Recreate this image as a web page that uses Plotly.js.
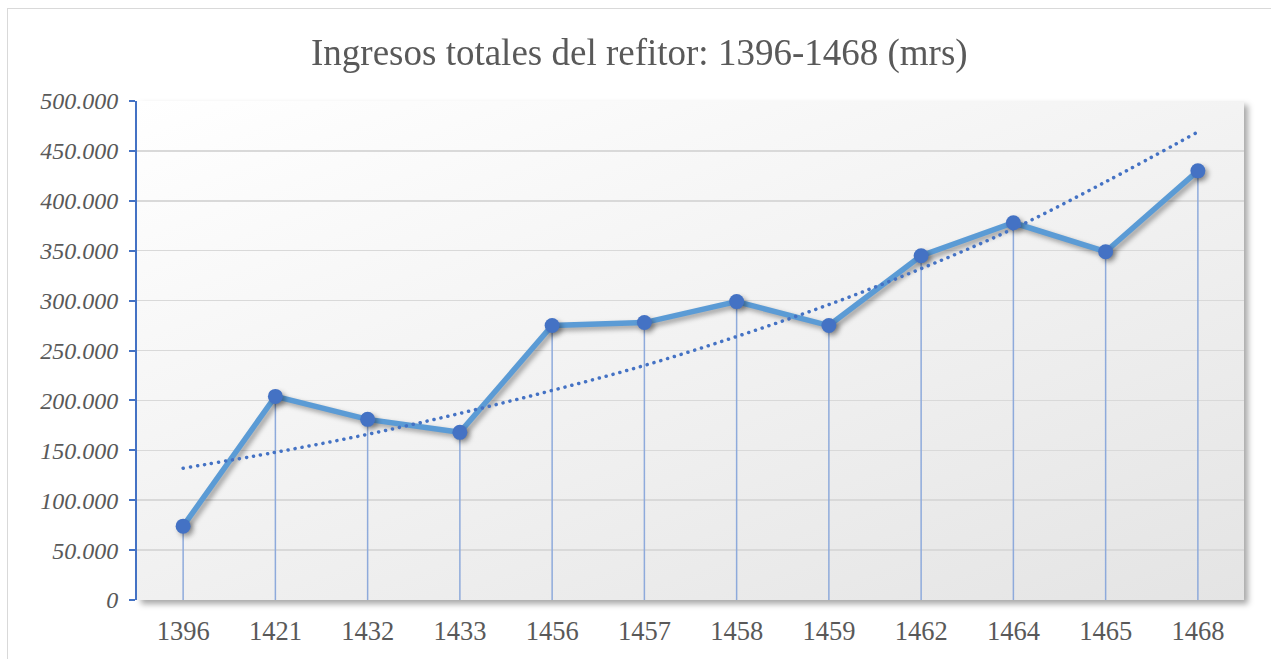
<!DOCTYPE html>
<html>
<head>
<meta charset="utf-8">
<script src="https://cdn.plot.ly/plotly-3.0.1.min.js"></script>
<style>
  html, body { margin: 0; padding: 0; background: #ffffff; }
  #wrap { position: relative; width: 1271px; height: 659px; overflow: hidden; }
  #frame { position: absolute; left: 7px; top: 8px; width: 1300px; height: 700px;
           border: 1px solid #d9d9d9; box-sizing: border-box; }
  #plotbg { position: absolute; left: 137px; top: 101px; width: 1107px; height: 499px;
            background: linear-gradient(160deg, #ffffff 0%, #f3f3f3 45%, #e4e4e4 100%);
            box-shadow: 4px 4px 6px rgba(0,0,0,0.35); }
  #chart { position: absolute; left: 0; top: 0; width: 1271px; height: 659px; }
  #chart .scatterlayer .trace:first-child .js-line,
  #chart .scatterlayer .trace:first-child .points {
    filter: drop-shadow(3px 3px 2.5px rgba(0,0,0,0.35));
  }
  #chart .scatterlayer .trace:nth-child(2) .js-line {
    stroke-linecap: round;
  }
</style>
</head>
<body>
<div id="wrap">
  <div id="frame"></div>
  <div id="plotbg"></div>
  <div id="chart"></div>
</div>
<script>
const years = ["1396","1421","1432","1433","1456","1457","1458","1459","1462","1464","1465","1468"];
const ingresos = [74000, 204000, 181000, 168000, 275000, 278000, 299000, 275000, 345000, 378000, 349000, 430000];
const tendencia = [132000, 148000, 166000, 187000, 210000, 235000, 264000, 296000, 332000, 372000, 419000, 469000];
const yTicks = [0, 50000, 100000, 150000, 200000, 250000, 300000, 350000, 400000, 450000, 500000];
const titulo = "Ingresos totales del refitor: 1396-1468 (mrs)";

const traces = [
  {
    x: years, y: ingresos, type: "scatter", mode: "lines+markers",
    line: { color: "#5b9bd5", width: 5.5 },
    marker: { color: "#4472c4", size: 15 },
    error_y: { type: "data", symmetric: false, array: ingresos.map(() => 0),
               arrayminus: ingresos, width: 0, thickness: 1.5, color: "#8eaadb" },
    hoverinfo: "x+y", showlegend: false
  },
  {
    x: years, y: tendencia, type: "scatter", mode: "lines",
    line: { color: "#4472c4", width: 3.5, dash: "0.1px,7px", shape: "spline" },
    hoverinfo: "skip", showlegend: false
  }
];

const layout = {
  width: 1271, height: 659,
  margin: { l: 137, r: 27, t: 101, b: 59 },
  paper_bgcolor: "rgba(0,0,0,0)", plot_bgcolor: "rgba(0,0,0,0)",
  separators: ",.",
  title: {
    text: titulo, xref: "container", x: 0.503, yref: "container", y: 0.921,
    xanchor: "center", yanchor: "middle",
    font: { family: "Liberation Serif, Times New Roman, serif", size: 37, color: "#595959" }
  },
  xaxis: {
    type: "category", range: [-0.5, 11.5], showgrid: false, zeroline: false,
    showline: false, ticks: "", fixedrange: true,
    tickfont: { family: "Liberation Serif, Times New Roman, serif", size: 26.5, color: "#595959" },
    ticklabelstandoff: 12
  },
  yaxis: {
    range: [0, 500000], tickvals: yTicks, tickformat: ",d",
    showgrid: true, gridcolor: "#d9d9d9", gridwidth: 1.5, zeroline: false,
    showline: true, linecolor: "#4472c4", linewidth: 2,
    ticks: "outside", ticklen: 6, tickwidth: 2, tickcolor: "#4472c4",
    tickfont: { family: "Liberation Serif, Times New Roman, serif", size: 24, color: "#595959", style: "italic" },
    ticklabelstandoff: 6, fixedrange: true
  },
  showlegend: false
};

Plotly.newPlot("chart", traces, layout, { displayModeBar: false, staticPlot: true });
</script>
</body>
</html>
